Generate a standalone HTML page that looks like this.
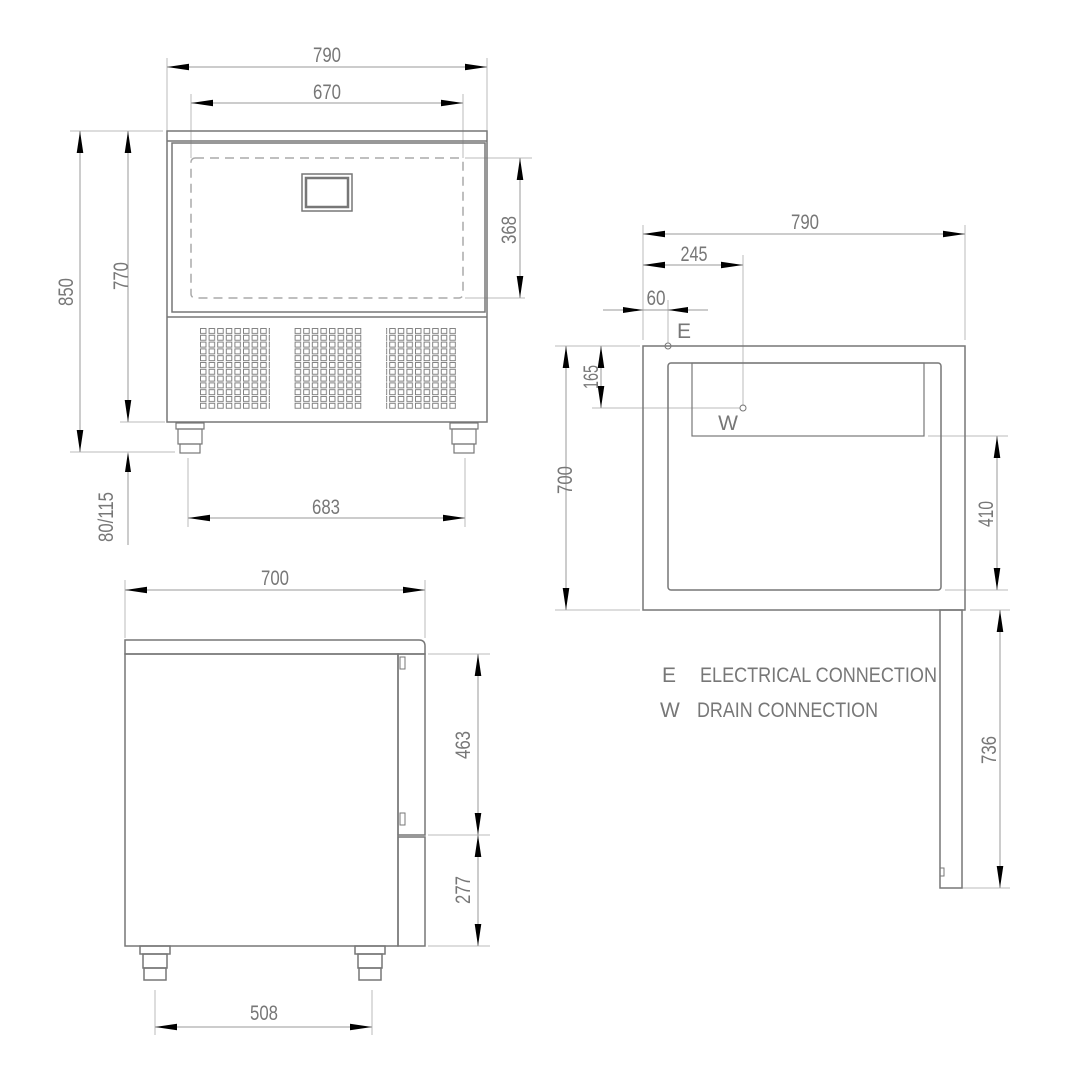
<!DOCTYPE html>
<html><head><meta charset="utf-8"><style>
html,body{margin:0;padding:0;background:#fff;}
svg{display:block;}
text{font-family:"Liberation Sans",sans-serif;fill:#777;font-size:21px;}
</style></head><body>
<svg width="1080" height="1080" viewBox="0 0 1080 1080" xmlns="http://www.w3.org/2000/svg">
<defs>
<marker id="a" markerUnits="userSpaceOnUse" markerWidth="22" markerHeight="8" refX="20" refY="3" orient="auto-start-reverse" viewBox="0 0 20 6">
<path d="M0,0 L20,3 L0,6 Z" fill="#000"/>
</marker>
<pattern id="g" x="200" y="328" width="8.6" height="6.8" patternUnits="userSpaceOnUse">
<rect x="0.5" y="0.5" width="5.5" height="5" fill="none" stroke="#777" stroke-width="0.9"/>
</pattern>
</defs>

<g stroke="#bbb" stroke-width="1" fill="none">
<line x1="167" y1="58" x2="167" y2="131"/>
<line x1="487" y1="58" x2="487" y2="131"/>
<line x1="191" y1="94" x2="191" y2="158"/>
<line x1="463" y1="94" x2="463" y2="158"/>
<line x1="70" y1="131" x2="163" y2="131"/>
<line x1="70" y1="452" x2="175" y2="452"/>
<line x1="120" y1="422" x2="165" y2="422"/>
<line x1="465" y1="158" x2="532" y2="158"/>
<line x1="465" y1="298" x2="525" y2="298"/>
<line x1="188" y1="458" x2="188" y2="527"/>
<line x1="465" y1="458" x2="465" y2="527"/>
<line x1="125" y1="580" x2="125" y2="638"/>
<line x1="425" y1="580" x2="425" y2="638"/>
<line x1="428" y1="654" x2="490" y2="654"/>
<line x1="428" y1="835" x2="490" y2="835"/>
<line x1="428" y1="946" x2="490" y2="946"/>
<line x1="155" y1="990" x2="155" y2="1035"/>
<line x1="372" y1="990" x2="372" y2="1035"/>
<line x1="643" y1="225" x2="643" y2="340"/>
<line x1="965" y1="225" x2="965" y2="340"/>
<line x1="743" y1="255" x2="743" y2="406"/>
<line x1="668" y1="300" x2="668" y2="343"/>
<line x1="592" y1="408" x2="740" y2="408"/>
<line x1="555" y1="346" x2="640" y2="346"/>
<line x1="555" y1="610" x2="640" y2="610"/>
<line x1="928" y1="436" x2="1008" y2="436"/>
<line x1="945" y1="590" x2="1008" y2="590"/>
<line x1="970" y1="610" x2="1010" y2="610"/>
<line x1="962" y1="888" x2="1010" y2="888"/>
</g>

<g stroke="#999" stroke-width="1" fill="none" marker-start="url(#a)" marker-end="url(#a)">
<line x1="167" y1="67" x2="487" y2="67"/>
<line x1="191" y1="103" x2="463" y2="103"/>
<line x1="80" y1="131" x2="80" y2="452"/>
<line x1="128" y1="131" x2="128" y2="422"/>
<line x1="520" y1="158" x2="520" y2="298"/>
<line x1="188" y1="518" x2="465" y2="518"/>
<line x1="125" y1="590" x2="425" y2="590"/>
<line x1="478" y1="654" x2="478" y2="835"/>
<line x1="478" y1="835" x2="478" y2="946"/>
<line x1="155" y1="1027" x2="372" y2="1027"/>
<line x1="643" y1="234" x2="965" y2="234"/>
<line x1="643" y1="265" x2="743" y2="265"/>
<line x1="566" y1="346" x2="566" y2="610"/>
<line x1="601" y1="346" x2="601" y2="408"/>
<line x1="997" y1="436" x2="997" y2="590"/>
<line x1="1000" y1="610" x2="1000" y2="888"/>
</g>
<g stroke="#999" stroke-width="1" fill="none">
<line x1="603" y1="310" x2="708" y2="310"/>
<line x1="128" y1="470" x2="128" y2="545" />
</g>
<path d="M623,307 L643,310 L623,313Z M688,307 L668,310 L688,313Z M125,472 L128,452 L131,472Z" fill="#000"/>

<g stroke="#777" stroke-width="1.5" fill="none">
<rect x="167" y="131" width="320" height="291"/>
<line x1="167" y1="141" x2="487" y2="141"/>
<rect x="172" y="143" width="313" height="169"/>
<line x1="167" y1="317" x2="487" y2="317"/>
<rect x="302" y="174" width="50" height="37"/>
<rect x="306" y="178" width="42" height="29" stroke-width="2.5"/>
</g>
<rect x="191" y="158" width="272" height="140" rx="4" fill="none" stroke="#aaa" stroke-width="1.5" stroke-dasharray="9,6"/>
<rect x="200" y="328" width="70" height="81" fill="url(#g)"/>
<rect x="293" y="328" width="70" height="81" fill="url(#g)"/>
<rect x="386" y="328" width="70" height="81" fill="url(#g)"/>
<g stroke="#777" stroke-width="1.2" fill="none">
<rect x="176" y="423" width="28" height="6"/>
<rect x="178" y="429" width="24" height="15"/>
<rect x="180" y="444" width="20" height="9"/>
<rect x="450" y="423" width="28" height="6"/>
<rect x="452" y="429" width="24" height="15"/>
<rect x="454" y="444" width="20" height="9"/>
</g>

<g stroke="#777" stroke-width="1.5" fill="none">
<path d="M125,654 L125,640 L419,640 Q425,640 425,646 L425,654 Z"/>
<rect x="125" y="654" width="273" height="292"/>
<rect x="398" y="654" width="27" height="181"/>
<rect x="398" y="837" width="27" height="109"/>
<rect x="400" y="657" width="5" height="12" stroke-width="1"/>
<rect x="400" y="813" width="5" height="12" stroke-width="1"/>
<rect x="140" y="946" width="30" height="8"/>
<rect x="143" y="954" width="24" height="14"/>
<rect x="144" y="968" width="22" height="12"/>
<rect x="355" y="946" width="30" height="8"/>
<rect x="358" y="954" width="24" height="14"/>
<rect x="359" y="968" width="22" height="12"/>
</g>

<g stroke="#777" stroke-width="1.5" fill="none">
<rect x="643" y="346" width="322" height="264"/>
<rect x="668" y="363" width="273" height="227" rx="3"/>
<rect x="692" y="363" width="232" height="73" stroke-width="1.2"/>
<rect x="940" y="610" width="22" height="278"/>
<rect x="940" y="868" width="4" height="8" stroke-width="1"/>
<circle cx="668" cy="346" r="3" stroke-width="1"/>
<circle cx="743" cy="408" r="3" stroke-width="1"/>
</g>

<text x="327" y="62" text-anchor="middle" textLength="28" lengthAdjust="spacingAndGlyphs">790</text>
<text x="327" y="99" text-anchor="middle" textLength="28" lengthAdjust="spacingAndGlyphs">670</text>
<text transform="translate(73,292) rotate(-90)" text-anchor="middle" textLength="28" lengthAdjust="spacingAndGlyphs">850</text>
<text transform="translate(128,276) rotate(-90)" text-anchor="middle" textLength="28" lengthAdjust="spacingAndGlyphs">770</text>
<text transform="translate(516,230) rotate(-90)" text-anchor="middle" textLength="28" lengthAdjust="spacingAndGlyphs">368</text>
<text x="326" y="514" text-anchor="middle" textLength="28" lengthAdjust="spacingAndGlyphs">683</text>
<text transform="translate(113,517) rotate(-90)" text-anchor="middle" textLength="50" lengthAdjust="spacingAndGlyphs">80/115</text>
<text x="275" y="585" text-anchor="middle" textLength="28" lengthAdjust="spacingAndGlyphs">700</text>
<text transform="translate(470,745) rotate(-90)" text-anchor="middle" textLength="28" lengthAdjust="spacingAndGlyphs">463</text>
<text transform="translate(470,890) rotate(-90)" text-anchor="middle" textLength="28" lengthAdjust="spacingAndGlyphs">277</text>
<text x="264" y="1020" text-anchor="middle" textLength="28" lengthAdjust="spacingAndGlyphs">508</text>
<text x="805" y="229" text-anchor="middle" textLength="28" lengthAdjust="spacingAndGlyphs">790</text>
<text x="694" y="261" text-anchor="middle" textLength="27" lengthAdjust="spacingAndGlyphs">245</text>
<text x="656" y="305" text-anchor="middle" textLength="19" lengthAdjust="spacingAndGlyphs">60</text>
<text x="684" y="338" text-anchor="middle" font-size="16">E</text>
<text x="728" y="430" text-anchor="middle" font-size="16">W</text>
<text transform="translate(598,377) rotate(-90)" text-anchor="middle" textLength="24" lengthAdjust="spacingAndGlyphs">165</text>
<text transform="translate(572,480) rotate(-90)" text-anchor="middle" textLength="28" lengthAdjust="spacingAndGlyphs">700</text>
<text transform="translate(993,514) rotate(-90)" text-anchor="middle" textLength="26" lengthAdjust="spacingAndGlyphs">410</text>
<text transform="translate(996,750) rotate(-90)" text-anchor="middle" textLength="28" lengthAdjust="spacingAndGlyphs">736</text>
<text x="662" y="682" font-size="17">E</text>
<text x="700" y="682" font-size="17" textLength="237" lengthAdjust="spacingAndGlyphs">ELECTRICAL CONNECTION</text>
<text x="660" y="717" font-size="17">W</text>
<text x="697" y="717" font-size="17" textLength="181" lengthAdjust="spacingAndGlyphs">DRAIN CONNECTION</text>
</svg>
</body></html>
